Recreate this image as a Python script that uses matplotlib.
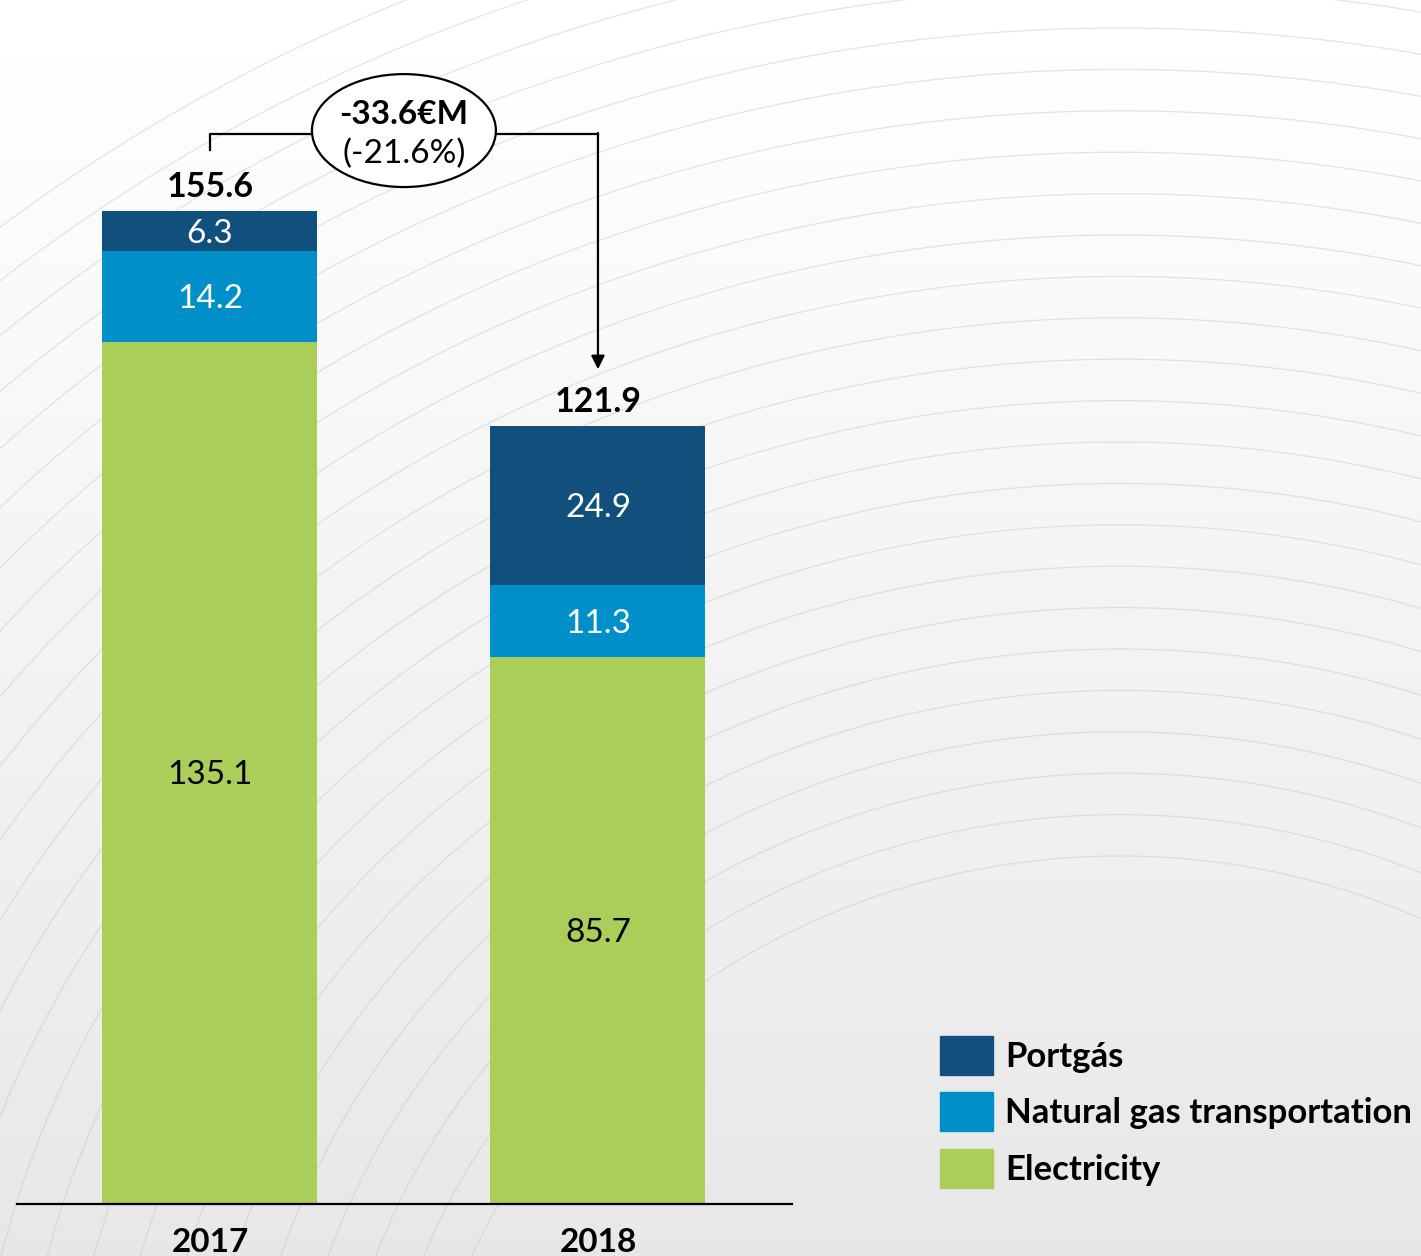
import numpy as np
import matplotlib.pyplot as plt
from matplotlib.patches import Ellipse, Patch

plt.rcParams['font.family'] = ['Lato', 'DejaVu Sans']

# 데이터
years = ['2017', '2018']
electricity = [135.1, 85.7]
gas_transport = [14.2, 11.3]
portgas = [6.3, 24.9]
series_names = ['Portgás', 'Natural gas transportation', 'Electricity']
colors = {'Portgás': '#114f7d', 'Natural gas transportation': '#008fc8',
          'Electricity': '#abcd59'}
change_text = '-33.6€M'
change_pct = '(-21.6%)'

totals = np.array(electricity) + np.array(gas_transport) + np.array(portgas)

W, H = 1421, 1256
fig = plt.figure(figsize=(W / 100, H / 100), dpi=100)

# 배경: 위는 흰색, 아래는 옅은 회색 그라데이션 + 곡선 무늬
bg = fig.add_axes([0, 0, 1, 1], zorder=0)
grad = np.linspace(1.0, 0.905, 256).reshape(-1, 1)
grad = grad * np.ones((1, 2))
bg.imshow(grad, cmap='gray', vmin=0, vmax=1, aspect='auto',
          extent=[0, W, H, 0])
t = np.linspace(0, 2 * np.pi, 1200)
for r in np.arange(700, 1800, 45):
    cx, cy = 1120, 1500
    bg.plot(cx + r * np.cos(t), cy + 0.92 * r * np.sin(t), color='#c4c4c4',
            lw=0.9, alpha=0.45)
bg.set_xlim(0, W)
bg.set_ylim(H, 0)
bg.axis('off')

# 메인 차트
ax = fig.add_axes([17 / W, 52 / H, 775 / W, 1204 / H], zorder=1)
ax.patch.set_alpha(0)
x = np.arange(len(years))
bw = 0.554
ax.bar(x, electricity, bw, color=colors['Electricity'])
ax.bar(x, gas_transport, bw, bottom=electricity,
       color=colors['Natural gas transportation'])
bottom2 = np.array(electricity) + np.array(gas_transport)
ax.bar(x, portgas, bw, bottom=bottom2, color=colors['Portgás'])

# 막대 안쪽 값
for i in range(len(years)):
    ax.text(x[i], electricity[i] / 2 - 0.4, f'{electricity[i]:.1f}', ha='center',
            va='center', fontsize=24, color='black')
    ax.text(x[i], electricity[i] + gas_transport[i] / 2 - 0.4, f'{gas_transport[i]:.1f}',
            ha='center', va='center', fontsize=24, color='white')
    ax.text(x[i], bottom2[i] + portgas[i] / 2 - 0.4, f'{portgas[i]:.1f}',
            ha='center', va='center', fontsize=24, color='white')
    ax.annotate(f'{totals[i]:.1f}', (x[i], totals[i]), xytext=(0, 6),
                textcoords='offset points', ha='center', va='bottom',
                fontsize=24.5, fontweight='bold')

ax.set_xlim(-0.497, 1.5)
ax.set_ylim(0, 188.66)

# 변화량 표시 (괄호선 + 타원 + 화살표)
bracket_y = totals.max() + 12.1
ax.plot([x[0], x[0], 0.5], [totals[0] + 9.5, bracket_y, bracket_y],
        color='black', lw=1.6, zorder=2)
ax.plot([0.5, x[1]], [bracket_y, bracket_y], color='black', lw=1.6, zorder=2)
ax.annotate('', xy=(x[1], totals[1] + 8.9), xytext=(x[1], bracket_y + 0.12),
            arrowprops=dict(arrowstyle='-|>', color='black', lw=1.6,
                            mutation_scale=20, shrinkA=0, shrinkB=0))
ax.add_patch(Ellipse((0.5, bracket_y + 0.5), 0.474, 17.7, facecolor='white',
                     edgecolor='black', lw=1.6, zorder=3))
ax.text(0.5, bracket_y + 2.95, change_text, ha='center', va='center',
        fontsize=24, fontweight='bold', zorder=4)
ax.text(0.5, bracket_y - 3.1, change_pct, ha='center', va='center',
        fontsize=24, zorder=4)

# 축 설정
for s in ['top', 'right', 'left']:
    ax.spines[s].set_visible(False)
ax.spines['bottom'].set_linewidth(1.6)
ax.set_yticks([])
ax.set_xticks(x)
ax.set_xticklabels(years, fontsize=24, fontweight='bold')
ax.tick_params(axis='x', length=0, pad=17)

# 범례
handles = [Patch(color=colors[n]) for n in series_names]
fig.legend(handles, series_names, loc='upper left',
           bbox_to_anchor=(940 / W, 1 - 1036 / H), frameon=False,
           prop={'size': 25, 'weight': 'bold'}, handlelength=1.53,
           handleheight=1.35, handletextpad=0.35, labelspacing=0.5,
           borderpad=0, borderaxespad=0)

plt.savefig('out.png', dpi=100)
